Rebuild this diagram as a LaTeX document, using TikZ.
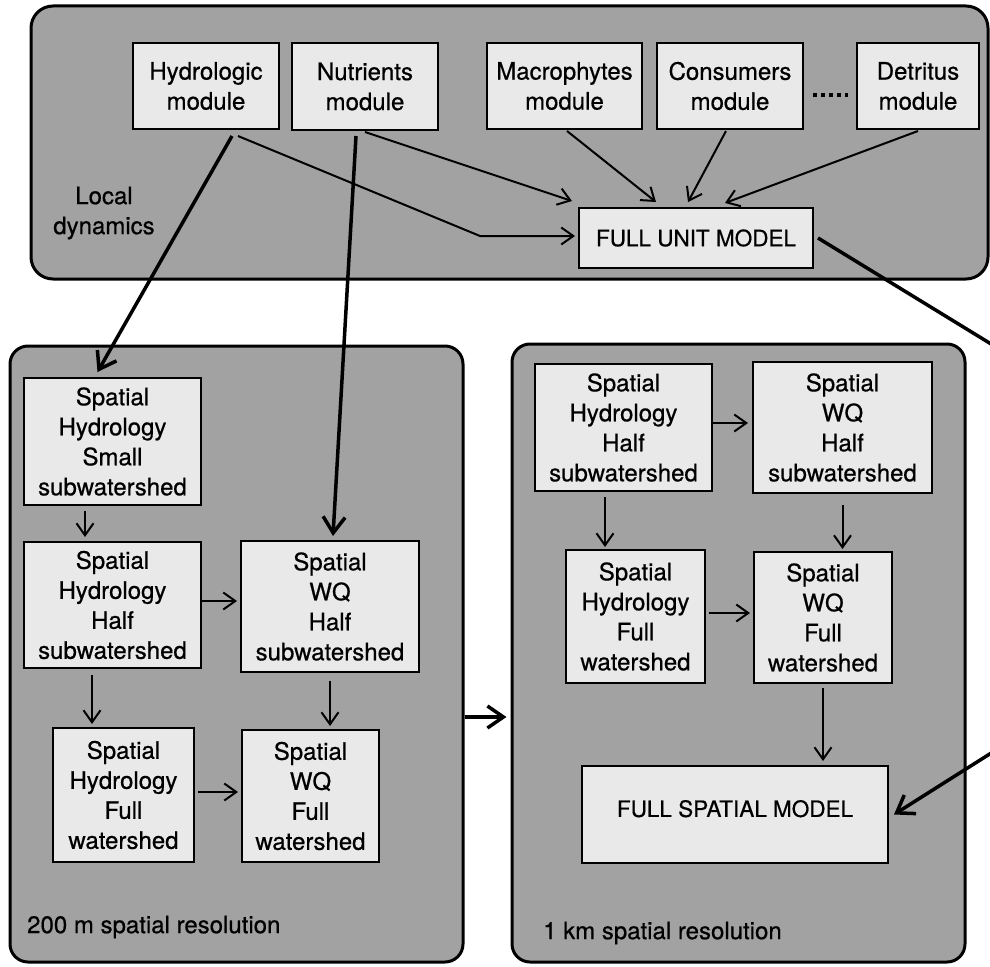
\documentclass[tikz,border=0pt]{standalone}
\usepackage{fontspec}
\setmainfont{TeX Gyre Heros}[BoldFont={TeX Gyre Heros}, BoldFeatures={FakeBold=0.6}]
\usetikzlibrary{arrows.meta,calc}
\definecolor{panelgray}{RGB}{162,162,162}
\definecolor{boxgray}{RGB}{233,233,233}
\begin{document}
\begin{tikzpicture}[x=1pt,y=-1pt,
  panel/.style={draw=black, line width=3pt, fill=panelgray, rounded corners=22pt, inner sep=0pt},
  box/.style={draw=black, line width=2pt, fill=boxgray, align=center, inner sep=0pt,
    font=\fontsize{24}{30}\selectfont\bfseries},
  bigbox/.style={box, font=\fontsize{22.5}{27}\selectfont\bfseries},
  lbl/.style={align=center, inner sep=0pt, font=\fontsize{24}{30}\selectfont\bfseries},
  conn/.style={line width=2pt, -{Straight Barb[length=12pt,width=17pt]}},
  heavy/.style={line width=3.5pt, -{Straight Barb[length=16pt,width=22pt]}},
  plainheavy/.style={line width=3.5pt}
]
\useasboundingbox (0,0) rectangle (990,966);

% panels
\node[panel, minimum width=957pt, minimum height=273pt] (ptop) at (509.5,142.5) {};
\node[panel, minimum width=453pt, minimum height=616pt, rounded corners=18pt] (pBL) at (236.5,654) {};
\node[panel, minimum width=453pt, minimum height=618pt, rounded corners=18pt] (pBR) at (738.5,653) {};

% top nodes
\node[box, minimum width=146pt, minimum height=86pt] (hyd) at (206,86) {Hydrologic\\module};
\node[box, minimum width=146pt, minimum height=87pt] (nut) at (365,86.5) {Nutrients\\module};
\node[box, minimum width=155pt, minimum height=86pt] (mac) at (564.5,86) {Macrophytes\\module};
\node[box, minimum width=146pt, minimum height=86pt] (cons) at (730,86) {Consumers\\module};
\node[box, minimum width=122pt, minimum height=86pt] (det) at (918,86) {Detritus\\module};
\node[bigbox, minimum width=234pt, minimum height=60pt] (fum) at (696,238) {FULL UNIT MODEL};
\node[lbl] (loc) at (104,213) {Local\\dynamics};

% bottom-left nodes
\node[box, minimum width=177pt, minimum height=127pt] (shs) at (112.5,441.5) {Spatial\\Hydrology\\Small\\subwatershed};
\node[box, minimum width=177pt, minimum height=126pt] (shhL) at (112.5,605) {Spatial\\Hydrology\\Half\\subwatershed};
\node[box, minimum width=178pt, minimum height=131pt] (wqhL) at (330,606.5) {Spatial\\WQ\\Half\\subwatershed};
\node[box, minimum width=141pt, minimum height=134pt] (shfL) at (123.5,795) {Spatial\\Hydrology\\Full\\watershed};
\node[box, minimum width=137pt, minimum height=132pt] (wqfL) at (310.5,796) {Spatial\\WQ\\Full\\watershed};
\node[lbl, anchor=west] (r200) at (27,927) {200 m spatial resolution};

% bottom-right nodes
\node[box, minimum width=177pt, minimum height=127pt] (shhR) at (623.5,427.5) {Spatial\\Hydrology\\Half\\subwatershed};
\node[box, minimum width=179pt, minimum height=131pt] (wqhR) at (842.5,427.5) {Spatial\\WQ\\Half\\subwatershed};
\node[box, minimum width=139pt, minimum height=133pt] (shfR) at (635.5,616.5) {Spatial\\Hydrology\\Full\\watershed};
\node[box, minimum width=138pt, minimum height=131pt] (wqfR) at (823,617.5) {Spatial\\WQ\\Full\\watershed};
\node[bigbox, minimum width=306pt, minimum height=97pt, text depth=12pt] (fsm) at (735,814.5) {FULL SPATIAL MODEL};
\node[lbl, anchor=west] (r1k) at (543,933) {1 km spatial resolution};

% dots between consumers and detritus
\draw[line width=4pt, dash pattern=on 4pt off 4pt] ($(cons.east)+(9,9)$) -- ($(det.west)+(-8,9)$);

% top-panel arrows
\coordinate (hbend) at (480,236);
\draw[conn] ($(hyd.south)+(32,6)$) -- (hbend) -- ($(fum.west)+(-3,-2)$);
\draw[conn] ($(nut.south)+(0,1)$) -- ($(fum.north west)+(-6,-6)$);
\draw[conn] ($(mac.south)+(2.5,1)$) -- ($(fum.north)+(-40,-5)$);
\draw[conn] ($(cons.south)+(-4,1)$) -- ($(fum.north)+(-8,-5)$);
\draw[conn] ($(det.south)+(0,1)$) -- ($(fum.north)+(29,-4)$);

% heavy arrows from top modules
\draw[heavy] ($(hyd.south)+(26,6)$) -- ($(shs.north)+(-15,-5)$);
\draw[heavy] ($(nut.south)+(-9,5)$) -- ($(wqhL.north)+(3,-4)$);

% long connector off the right edge
\coordinate (edgeA) at (996,347);
\coordinate (edgeB) at (996,750);
\draw[plainheavy] ($(fum.east)+(4,0)$) -- (edgeA);
\draw[heavy] (edgeB) -- ($(fsm.east)+(5,0)$);

% panel to panel
\draw[heavy] ($(pBL.east)+(0,63)$) -- ($(pBR.west |- pBL.east)+(-4,63)$);

% bottom-left arrows
\draw[conn] ($(shs.south)+(-27.5,5)$) -- ($(shhL.north)+(-27.5,-4)$);
\draw[conn] ($(shhL.east)+(0,-4)$) -- ($(wqhL.west |- shhL.east)+(-3,-4)$);
\draw[conn] ($(shhL.south)+(-20.5,6)$) -- ($(shfL.north)+(-31.5,-3)$);
\draw[conn] ($(wqhL.south)+(0,8)$) -- ($(wqfL.north -| wqhL.south)+(0,-3)$);
\draw[conn] ($(shfL.east)+(3,-3)$) -- ($(wqfL.west |- shfL.east)+(-3,-3)$);

% bottom-right arrows
\draw[conn] ($(shhR.east)+(0,-4.5)$) -- ($(wqhR.west |- shhR.east)+(-4,-4.5)$);
\draw[conn] ($(shhR.south)+(-18.5,5)$) -- ($(shfR.north)+(-30.5,-2)$);
\draw[conn] ($(wqhR.south)+(0,11)$) -- ($(wqfR.north -| wqhR.south)+(0,-2)$);
\draw[conn] ($(shfR.east)+(3,-3.5)$) -- ($(wqfR.west |- shfR.east)+(-3,-3.5)$);
\draw[conn] ($(wqfR.south)+(0,4)$) -- ($(fsm.north -| wqfR.south)+(0,-4)$);
\end{tikzpicture}
\end{document}
